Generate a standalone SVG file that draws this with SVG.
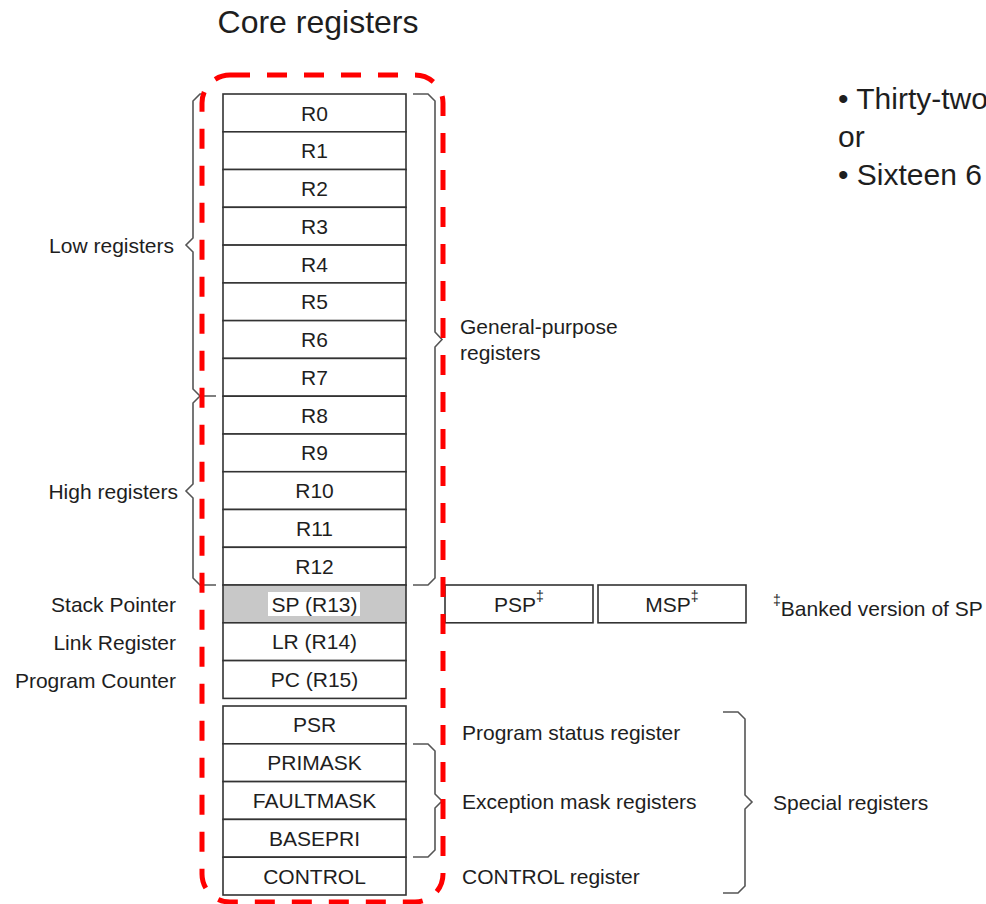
<svg xmlns="http://www.w3.org/2000/svg" width="986" height="904" viewBox="0 0 986 904">
<style>
text{font-family:"Liberation Sans",Arial,sans-serif;fill:#1e1e1e;font-size:21px}
.c{text-anchor:middle;dominant-baseline:central}
.l{dominant-baseline:central}
.r{text-anchor:end;dominant-baseline:central}
.big{font-size:30px}
.title{font-size:32px}
.reg{fill:#fff;stroke:#333;stroke-width:1.6}
.br{fill:none;stroke:#555;stroke-width:1.6;stroke-linejoin:miter}
.sup{font-size:14px}
</style>
<rect width="986" height="904" fill="#fff"/>
<text x="318" y="22" class="c title">Core registers</text>
<g id="notes">
<text x="838" y="98" class="l big">• Thirty-two</text>
<text x="838" y="136" class="l big">or</text>
<text x="838" y="174" class="l big">• Sixteen 6</text>
</g>
<g id="connectors">
<path class="br" d="M206 94 L200 94 L193 101 L193 238 L186 245 L193 252 L193 389 L200 396 L216 396 M200 396 L193 403 L193 484 L186 491 L193 498 L193 578 L200 585 L216 585"/>
<path class="br" d="M413 94 L428 94 L435 101 L435 332 L442 339.5 L435 347 L435 578 L428 585 L413 585"/>
<path class="br" d="M413 744 L428 744 L435 751 L435 794 L442 801 L435 808 L435 850 L428 857 L413 857"/>
<path class="br" d="M723 712 L738 712 L745 719 L745 795 L752 802 L745 809 L745 886 L738 893 L723 893"/>
</g>
<g id="core">
<rect class="reg" x="223" y="94" width="183" height="37.8"/><text x="314.5" y="113" class="c">R0</text>
<rect class="reg" x="223" y="131.8" width="183" height="37.8"/><text x="314.5" y="150.7" class="c">R1</text>
<rect class="reg" x="223" y="169.5" width="183" height="37.8"/><text x="314.5" y="188.4" class="c">R2</text>
<rect class="reg" x="223" y="207.3" width="183" height="37.8"/><text x="314.5" y="226.2" class="c">R3</text>
<rect class="reg" x="223" y="245.1" width="183" height="37.8"/><text x="314.5" y="264" class="c">R4</text>
<rect class="reg" x="223" y="282.9" width="183" height="37.8"/><text x="314.5" y="301.8" class="c">R5</text>
<rect class="reg" x="223" y="320.6" width="183" height="37.8"/><text x="314.5" y="339.5" class="c">R6</text>
<rect class="reg" x="223" y="358.4" width="183" height="37.8"/><text x="314.5" y="377.3" class="c">R7</text>
<rect class="reg" x="223" y="396.2" width="183" height="37.8"/><text x="314.5" y="415.1" class="c">R8</text>
<rect class="reg" x="223" y="434" width="183" height="37.8"/><text x="314.5" y="452.9" class="c">R9</text>
<rect class="reg" x="223" y="471.7" width="183" height="37.8"/><text x="314.5" y="490.6" class="c">R10</text>
<rect class="reg" x="223" y="509.5" width="183" height="37.8"/><text x="314.5" y="528.4" class="c">R11</text>
<rect class="reg" x="223" y="547.3" width="183" height="37.8"/><text x="314.5" y="566.2" class="c">R12</text>
<rect class="reg" x="223" y="585" width="183" height="37.8" style="fill:#c8c8c8"/>
<rect x="268" y="592" width="92" height="24" fill="#fff"/>
<text x="314.5" y="604" class="c">SP (R13)</text>
<rect class="reg" x="223" y="622.8" width="183" height="37.8"/><text x="314.5" y="641.7" class="c">LR (R14)</text>
<rect class="reg" x="223" y="660.6" width="183" height="37.8"/><text x="314.5" y="679.5" class="c">PC (R15)</text>
</g>
<g id="special">
<rect class="reg" x="223" y="706" width="183" height="37.8"/><text x="314.5" y="724.9" class="c">PSR</text>
<rect class="reg" x="223" y="743.8" width="183" height="37.8"/><text x="314.5" y="762.7" class="c">PRIMASK</text>
<rect class="reg" x="223" y="781.6" width="183" height="37.8"/><text x="314.5" y="800.5" class="c">FAULTMASK</text>
<rect class="reg" x="223" y="819.4" width="183" height="37.8"/><text x="314.5" y="838.3" class="c">BASEPRI</text>
<rect class="reg" x="223" y="857.2" width="183" height="37.8"/><text x="314.5" y="876.1" class="c">CONTROL</text>
</g>
<g id="banked">
<rect class="reg" x="445" y="585" width="148" height="37.8"/>
<text x="519" y="604" class="c">PSP<tspan class="sup" dy="-8">‡</tspan></text>
<rect class="reg" x="598" y="585" width="148" height="37.8"/>
<text x="672" y="604" class="c">MSP<tspan class="sup" dy="-8">‡</tspan></text>
<text x="773" y="608" class="l"><tspan class="sup" dy="-8">‡</tspan><tspan dy="8">Banked version of SP</tspan></text>
</g>
<g id="labels">
<text x="174" y="245" class="r">Low registers</text>
<text x="178" y="491" class="r">High registers</text>
<text x="176" y="604" class="r">Stack Pointer</text>
<text x="176" y="642" class="r">Link Register</text>
<text x="176" y="680" class="r">Program Counter</text>
<text x="460" y="326" class="l">General-purpose</text>
<text x="460" y="352" class="l">registers</text>
<text x="462" y="732" class="l">Program status register</text>
<text x="462" y="801" class="l">Exception mask registers</text>
<text x="462" y="876" class="l">CONTROL register</text>
<text x="773" y="802" class="l">Special registers</text>
</g>
<g id="highlight">
<rect x="202" y="75" width="241" height="827" rx="28" ry="28" fill="none" stroke="#f00" stroke-width="5" stroke-dasharray="20 17"/>
</g>
</svg>
